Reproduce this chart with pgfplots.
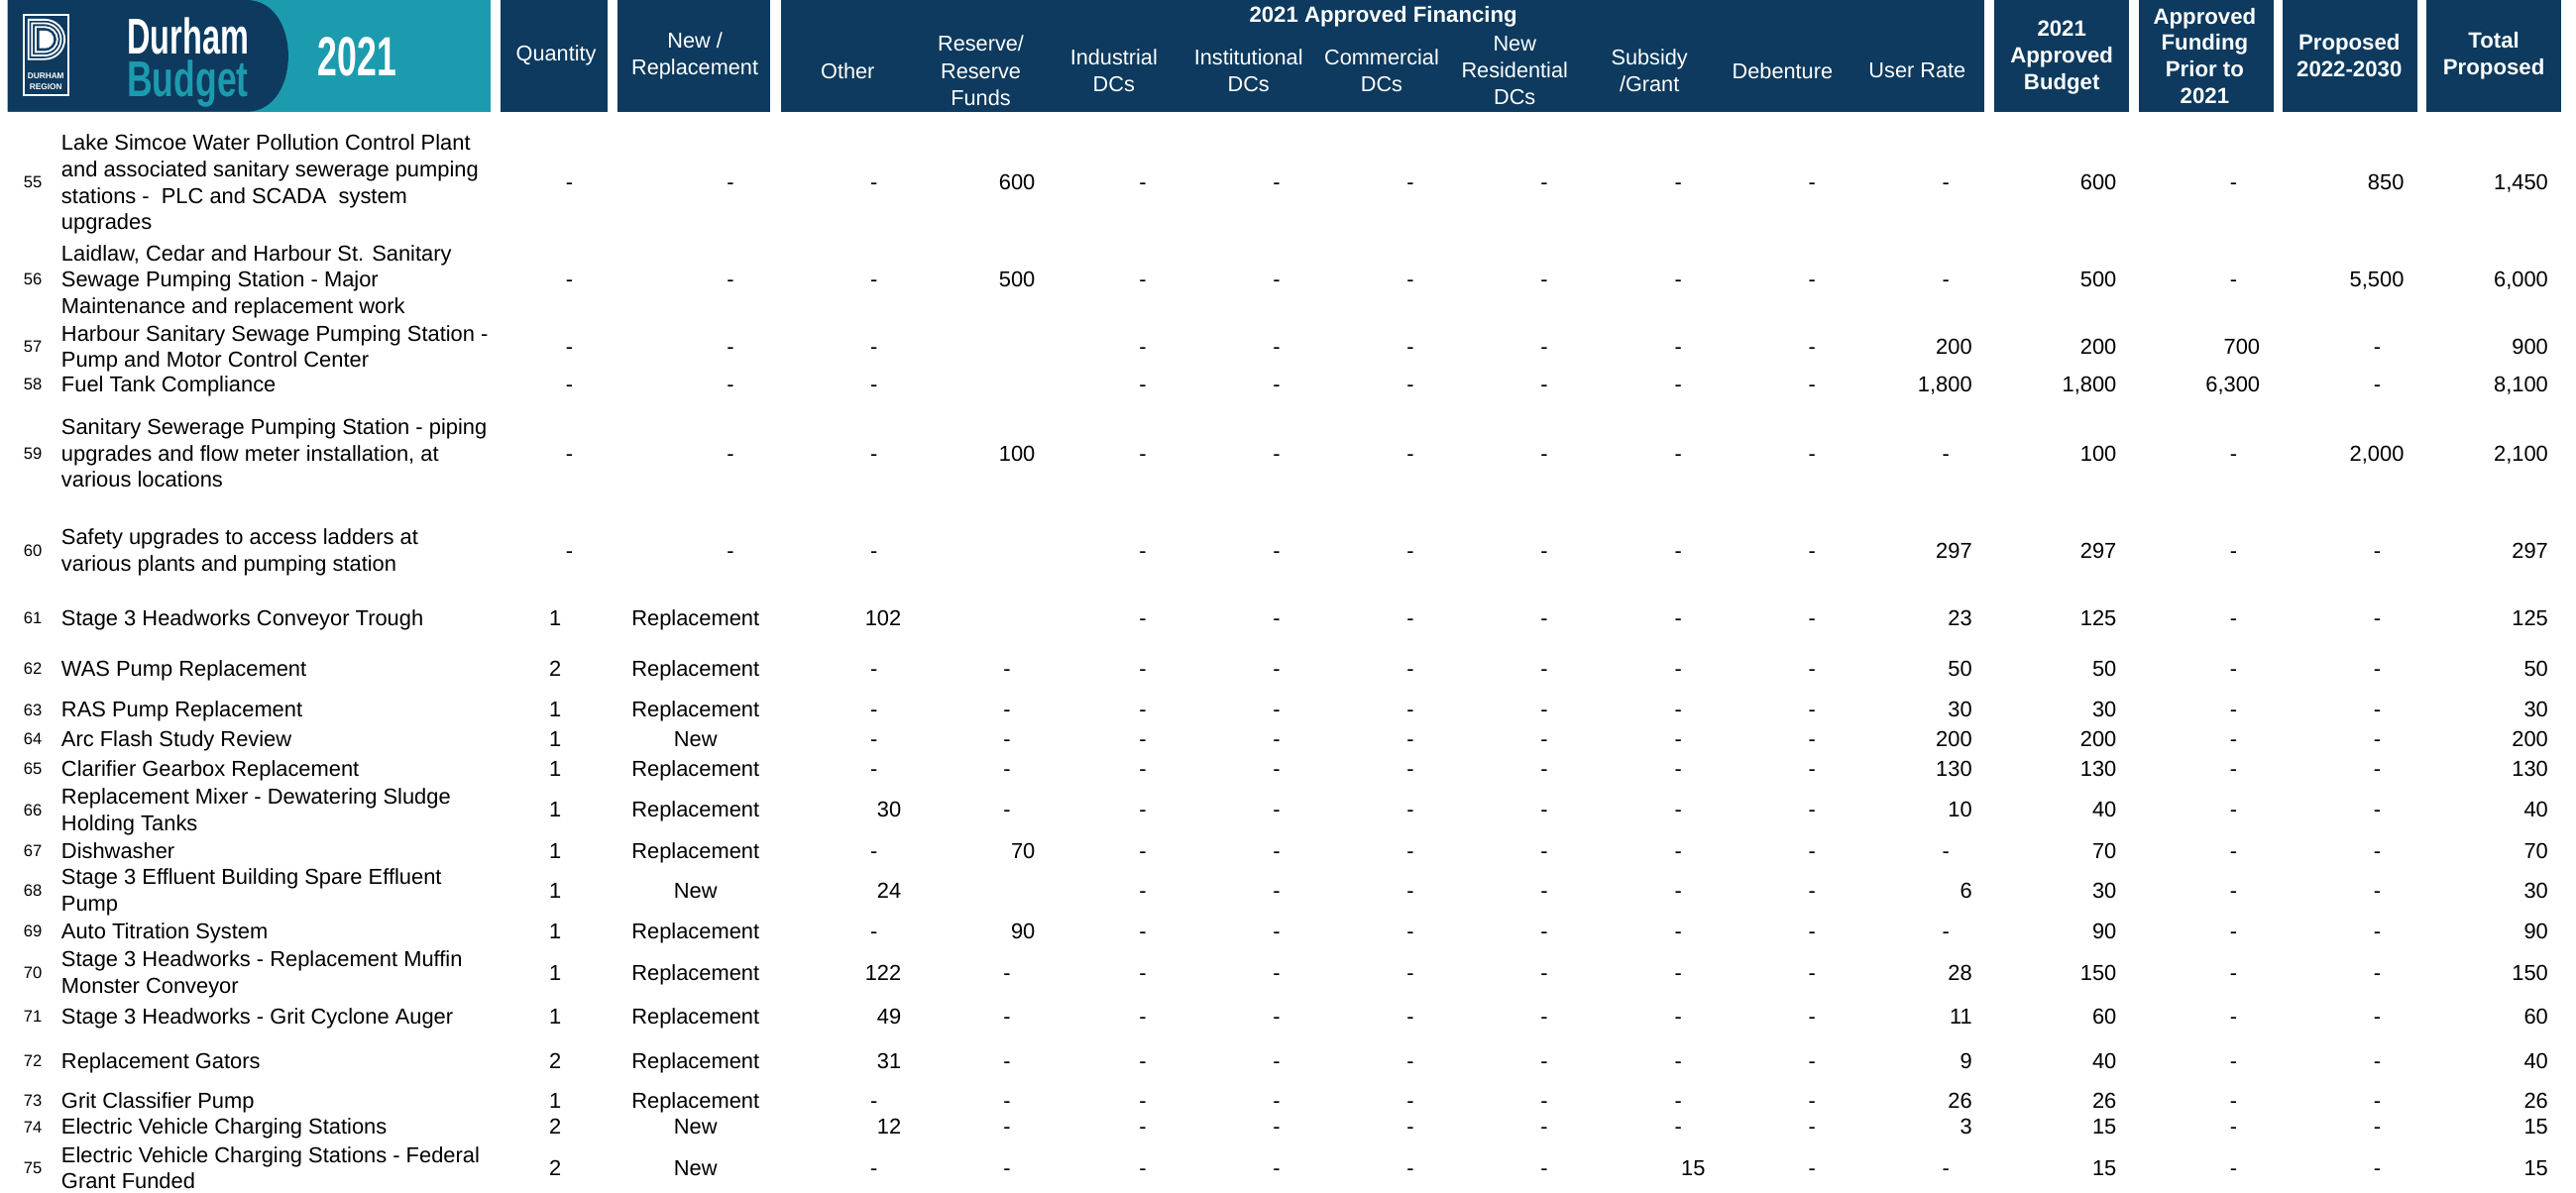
\documentclass[border=0pt]{standalone}
\usepackage{pgfplots}
\pgfplotsset{compat=1.18}
\usepackage{graphicx}
\usepackage{fontspec}
\setmainfont{Liberation Sans}
\definecolor{navy}{RGB}{13,58,94}
\definecolor{dteal}{RGB}{28,155,174}
\newcommand\cf{\fontsize{6.6bp}{8bp}\selectfont}
\newcommand\hf{\fontsize{6.55bp}{8.2bp}\selectfont}
\newcommand\bhf{\fontsize{6.7bp}{8.1bp}\selectfont\bfseries}
\pgfplotsset{
  txt/.style={draw=none, mark=none,
    point meta=explicit symbolic, nodes near coords,
    every node near coord/.style={font=\cf, inner sep=0pt, text=black, anchor=#1, yshift=-2.35bp}},
  rn/.style={draw=none, mark=none,
    point meta=explicit symbolic, nodes near coords,
    every node near coord/.style={font=\fontsize{5bp}{6bp}\selectfont, inner sep=0pt, text=black, anchor=base, yshift=-1.8bp}},
}
\begin{document}
\begin{tikzpicture}
\begin{axis}[width=784bp,height=363bp,scale only axis,
  xmin=0,xmax=1568,ymin=0,ymax=726,y dir=reverse,hide axis,clip=false]
% ---------- header boxes ----------
\fill[dteal] (axis cs:4.6,0) rectangle (axis cs:298.6,68);
\fill[navy] (axis cs:4.6,0) -- (axis cs:150,0) .. controls (axis cs:184,0) and (axis cs:184,68) .. (axis cs:150,68) -- (axis cs:4.6,68) -- cycle;
\fill[navy] (axis cs:304.7,0) rectangle (axis cs:370,68);
\fill[navy] (axis cs:376,0) rectangle (axis cs:468.5,68);
\fill[navy] (axis cs:475.5,0) rectangle (axis cs:1207.7,68);
\fill[navy] (axis cs:1213.6,0) rectangle (axis cs:1295.7,68);
\fill[navy] (axis cs:1302.2,0) rectangle (axis cs:1383.8,68);
\fill[navy] (axis cs:1389.5,0) rectangle (axis cs:1471.2,68);
\fill[navy] (axis cs:1477,0) rectangle (axis cs:1559,68);
% ---------- logo ----------
\draw[white, line width=0.6bp] (axis cs:14.4,9.2) rectangle (axis cs:41.4,58);
\begin{scope}[shift={(axis cs:17.3,12)}]
  \draw[white, line width=0.55bp] (0bp,0bp) -- (5bp,0bp) arc[start angle=90, end angle=-90, radius=6bp] -- (0bp,-12bp) -- cycle;
  \draw[white, line width=0.55bp] (1.1bp,-1.1bp) -- (5bp,-1.1bp) arc[start angle=90, end angle=-90, radius=4.9bp] -- (1.1bp,-10.9bp) -- cycle;
  \draw[white, line width=0.55bp] (2.2bp,-2.2bp) -- (5bp,-2.2bp) arc[start angle=90, end angle=-90, radius=3.8bp] -- (2.2bp,-9.8bp) -- cycle;
  \fill[white] (3.3bp,-3.3bp) -- (5bp,-3.3bp) arc[start angle=90,end angle=-90,radius=2.7bp] -- (3.3bp,-8.7bp) -- cycle;
\end{scope}
\node[inner sep=0pt, text=white, align=center, font=\fontsize{2.5bp}{3.5bp}\selectfont\bfseries] at (axis cs:27.9,49.5) {DURHAM\\REGION};
\node[inner sep=0pt, anchor=north west, align=left, font=\fontsize{15.3bp}{12.85bp}\selectfont\bfseries] at (axis cs:77,10.4)
  {\textcolor{white}{\scalebox{0.64}[1]{Durham}}\\\textcolor{dteal}{\scalebox{0.70}[1]{Budget}}};
\node[inner sep=0pt, anchor=base west, text=white] at (axis cs:193,46) {\scalebox{0.64}[1]{\fontsize{16.8bp}{16.8bp}\selectfont\bfseries 2021}};
% ---------- header labels ----------
\begin{scope}[every node/.style={inner sep=0pt, text=white, font=\hf, align=center}]
\node at (axis cs:338.5,34) {Quantity};
\node at (axis cs:423,34) {New /\\Replacement};
\node[font=\bhf] at (axis cs:842,10) {2021 Approved Financing};
\node at (axis cs:516,43) {Other};
\node at (axis cs:597,43) {Reserve/\\Reserve\\Funds};
\node at (axis cs:678,43) {Industrial\\DCs};
\node at (axis cs:760,43) {Institutional\\DCs};
\node at (axis cs:841,43) {Commercial\\DCs};
\node at (axis cs:922,43) {New\\Residential\\DCs};
\node at (axis cs:1004,43) {Subsidy\\/Grant};
\node at (axis cs:1085,43) {Debenture};
\node at (axis cs:1167,43) {User Rate};
\node[font=\bhf] at (axis cs:1255,35) {2021\\Approved\\Budget};
\node[font=\bhf] at (axis cs:1342,34) {Approved\\Funding\\Prior to\\2021};
\node[font=\bhf] at (axis cs:1430,34) {Proposed\\2022-2030};
\node[font=\bhf] at (axis cs:1518,34) {Total\\Proposed};
\end{scope}
% ---------- row numbers ----------
\addplot[rn] coordinates {
(20,111)[55] (20,170)[56] (20,211)[57] (20,234)[58] (20,276)[59] (20,335)[60]
(20,376)[61] (20,407)[62] (20,432)[63] (20,450)[64] (20,468)[65] (20,493)[66]
(20,518)[67] (20,542)[68] (20,567)[69] (20,592)[70] (20,619)[71] (20,646)[72]
(20,670)[73] (20,686)[74] (20,711)[75]};
% ---------- descriptions ----------
\addplot[txt=base west] coordinates {
(37,87)[Lake Simcoe Water Pollution Control Plant]
(37,103)[and associated sanitary sewerage pumping]
(37,119)[stations - \ PLC and SCADA \ system]
(37,135)[upgrades]
(37,154)[Laidlaw, Cedar and Harbour St. Sanitary]
(37,170)[Sewage Pumping Station - Major]
(37,186)[Maintenance and replacement work]
(37,203)[Harbour Sanitary Sewage Pumping Station -]
(37,219)[Pump and Motor Control Center]
(37,234)[Fuel Tank Compliance]
(37,260)[Sanitary Sewerage Pumping Station - piping]
(37,276)[upgrades and flow meter installation, at]
(37,292)[various locations]
(37,327)[Safety upgrades to access ladders at]
(37,343)[various plants and pumping station]
(37,376)[Stage 3 Headworks Conveyor Trough]
(37,407)[WAS Pump Replacement]
(37,432)[RAS Pump Replacement]
(37,450)[Arc Flash Study Review]
(37,468)[Clarifier Gearbox Replacement]
(37,485)[Replacement Mixer - Dewatering Sludge]
(37,501)[Holding Tanks]
(37,518)[Dishwasher]
(37,534)[Stage 3 Effluent Building Spare Effluent]
(37,550)[Pump]
(37,567)[Auto Titration System]
(37,584)[Stage 3 Headworks - Replacement Muffin]
(37,600)[Monster Conveyor]
(37,619)[Stage 3 Headworks - Grit Cyclone Auger]
(37,646)[Replacement Gators]
(37,670)[Grit Classifier Pump]
(37,686)[Electric Vehicle Charging Stations]
(37,703)[Electric Vehicle Charging Stations - Federal]
(37,719)[Grant Funded]};
% ---------- quantity & new/replacement ----------
\addplot[txt=base] coordinates {
(338,376)[1] (338,407)[2] (338,432)[1] (338,450)[1] (338,468)[1] (338,493)[1] (338,518)[1]
(338,542)[1] (338,567)[1] (338,592)[1] (338,619)[1] (338,646)[2] (338,670)[1] (338,686)[2] (338,711)[2]};
\addplot[txt=base] coordinates {
(423.4,376)[Replacement] (423.4,407)[Replacement] (423.4,432)[Replacement] (423.4,450)[New]
(423.4,468)[Replacement] (423.4,493)[Replacement] (423.4,518)[Replacement] (423.4,542)[New]
(423.4,567)[Replacement] (423.4,592)[Replacement] (423.4,619)[Replacement] (423.4,646)[Replacement]
(423.4,670)[Replacement] (423.4,686)[New] (423.4,711)[New]};
% ---------- dashes ----------
\addplot[txt=base] coordinates { % quantity, new/replacement
(346.6,111)[-] (346.6,170)[-] (346.6,211)[-] (346.6,234)[-] (346.6,276)[-] (346.6,335)[-]
(444.6,111)[-] (444.6,170)[-] (444.6,211)[-] (444.6,234)[-] (444.6,276)[-] (444.6,335)[-]};
\addplot[txt=base] coordinates { % other
(532,111)[-] (532,170)[-] (532,211)[-] (532,234)[-] (532,276)[-] (532,335)[-] (532,407)[-]
(532,432)[-] (532,450)[-] (532,468)[-] (532,518)[-] (532,567)[-] (532,670)[-] (532,711)[-]};
\addplot[txt=base] coordinates { % reserve
(613,407)[-] (613,432)[-] (613,450)[-] (613,468)[-] (613,493)[-] (613,592)[-] (613,619)[-]
(613,646)[-] (613,670)[-] (613,686)[-] (613,711)[-]};
\addplot[txt=base] coordinates { % industrial
(695.6,111)[-] (695.6,170)[-] (695.6,211)[-] (695.6,234)[-] (695.6,276)[-] (695.6,335)[-] (695.6,376)[-]
(695.6,407)[-] (695.6,432)[-] (695.6,450)[-] (695.6,468)[-] (695.6,493)[-] (695.6,518)[-] (695.6,542)[-]
(695.6,567)[-] (695.6,592)[-] (695.6,619)[-] (695.6,646)[-] (695.6,670)[-] (695.6,686)[-] (695.6,711)[-]};
\addplot[txt=base] coordinates { % institutional
(777,111)[-] (777,170)[-] (777,211)[-] (777,234)[-] (777,276)[-] (777,335)[-] (777,376)[-]
(777,407)[-] (777,432)[-] (777,450)[-] (777,468)[-] (777,493)[-] (777,518)[-] (777,542)[-]
(777,567)[-] (777,592)[-] (777,619)[-] (777,646)[-] (777,670)[-] (777,686)[-] (777,711)[-]};
\addplot[txt=base] coordinates { % commercial
(858.5,111)[-] (858.5,170)[-] (858.5,211)[-] (858.5,234)[-] (858.5,276)[-] (858.5,335)[-] (858.5,376)[-]
(858.5,407)[-] (858.5,432)[-] (858.5,450)[-] (858.5,468)[-] (858.5,493)[-] (858.5,518)[-] (858.5,542)[-]
(858.5,567)[-] (858.5,592)[-] (858.5,619)[-] (858.5,646)[-] (858.5,670)[-] (858.5,686)[-] (858.5,711)[-]};
\addplot[txt=base] coordinates { % new residential
(940,111)[-] (940,170)[-] (940,211)[-] (940,234)[-] (940,276)[-] (940,335)[-] (940,376)[-]
(940,407)[-] (940,432)[-] (940,450)[-] (940,468)[-] (940,493)[-] (940,518)[-] (940,542)[-]
(940,567)[-] (940,592)[-] (940,619)[-] (940,646)[-] (940,670)[-] (940,686)[-] (940,711)[-]};
\addplot[txt=base] coordinates { % subsidy
(1021.5,111)[-] (1021.5,170)[-] (1021.5,211)[-] (1021.5,234)[-] (1021.5,276)[-] (1021.5,335)[-] (1021.5,376)[-]
(1021.5,407)[-] (1021.5,432)[-] (1021.5,450)[-] (1021.5,468)[-] (1021.5,493)[-] (1021.5,518)[-] (1021.5,542)[-]
(1021.5,567)[-] (1021.5,592)[-] (1021.5,619)[-] (1021.5,646)[-] (1021.5,670)[-] (1021.5,686)[-]};
\addplot[txt=base] coordinates { % debenture
(1103,111)[-] (1103,170)[-] (1103,211)[-] (1103,234)[-] (1103,276)[-] (1103,335)[-] (1103,376)[-]
(1103,407)[-] (1103,432)[-] (1103,450)[-] (1103,468)[-] (1103,493)[-] (1103,518)[-] (1103,542)[-]
(1103,567)[-] (1103,592)[-] (1103,619)[-] (1103,646)[-] (1103,670)[-] (1103,686)[-] (1103,711)[-]};
\addplot[txt=base] coordinates { % user rate
(1184.5,111)[-] (1184.5,170)[-] (1184.5,276)[-] (1184.5,518)[-] (1184.5,567)[-] (1184.5,711)[-]};
\addplot[txt=base] coordinates { % approved prior
(1359.6,111)[-] (1359.6,170)[-] (1359.6,276)[-] (1359.6,335)[-] (1359.6,376)[-]
(1359.6,407)[-] (1359.6,432)[-] (1359.6,450)[-] (1359.6,468)[-] (1359.6,493)[-] (1359.6,518)[-] (1359.6,542)[-]
(1359.6,567)[-] (1359.6,592)[-] (1359.6,619)[-] (1359.6,646)[-] (1359.6,670)[-] (1359.6,686)[-] (1359.6,711)[-]};
\addplot[txt=base] coordinates { % proposed
(1447,211)[-] (1447,234)[-] (1447,335)[-] (1447,376)[-]
(1447,407)[-] (1447,432)[-] (1447,450)[-] (1447,468)[-] (1447,493)[-] (1447,518)[-] (1447,542)[-]
(1447,567)[-] (1447,592)[-] (1447,619)[-] (1447,646)[-] (1447,670)[-] (1447,686)[-] (1447,711)[-]};
% ---------- numbers ----------
\addplot[txt=base east] coordinates { % other
(549,376)[102] (549,493)[30] (549,542)[24] (549,592)[122] (549,619)[49] (549,646)[31] (549,686)[12]};
\addplot[txt=base east] coordinates { % reserve
(630.5,111)[600] (630.5,170)[500] (630.5,276)[100] (630.5,518)[70] (630.5,567)[90]};
\addplot[txt=base east] coordinates { % subsidy
(1038.4,711)[15]};
\addplot[txt=base east] coordinates { % user rate
(1200.8,211)[200] (1200.8,234)[1,800] (1200.8,335)[297] (1200.8,376)[23] (1200.8,407)[50]
(1200.8,432)[30] (1200.8,450)[200] (1200.8,468)[130] (1200.8,493)[10] (1200.8,542)[6]
(1200.8,592)[28] (1200.8,619)[11] (1200.8,646)[9] (1200.8,670)[26] (1200.8,686)[3]};
\addplot[txt=base east] coordinates { % 2021 approved budget
(1288.7,111)[600] (1288.7,170)[500] (1288.7,211)[200] (1288.7,234)[1,800] (1288.7,276)[100]
(1288.7,335)[297] (1288.7,376)[125] (1288.7,407)[50] (1288.7,432)[30] (1288.7,450)[200]
(1288.7,468)[130] (1288.7,493)[40] (1288.7,518)[70] (1288.7,542)[30] (1288.7,567)[90]
(1288.7,592)[150] (1288.7,619)[60] (1288.7,646)[40] (1288.7,670)[26] (1288.7,686)[15] (1288.7,711)[15]};
\addplot[txt=base east] coordinates { % approved prior
(1376,211)[700] (1376,234)[6,300]};
\addplot[txt=base east] coordinates { % proposed
(1463.7,111)[850] (1463.7,170)[5,500] (1463.7,276)[2,000]};
\addplot[txt=base east] coordinates { % total
(1551.4,111)[1,450] (1551.4,170)[6,000] (1551.4,211)[900] (1551.4,234)[8,100] (1551.4,276)[2,100]
(1551.4,335)[297] (1551.4,376)[125] (1551.4,407)[50] (1551.4,432)[30] (1551.4,450)[200]
(1551.4,468)[130] (1551.4,493)[40] (1551.4,518)[70] (1551.4,542)[30] (1551.4,567)[90]
(1551.4,592)[150] (1551.4,619)[60] (1551.4,646)[40] (1551.4,670)[26] (1551.4,686)[15] (1551.4,711)[15]};
\end{axis}
\pgfresetboundingbox
\path (0,0) rectangle (784bp,363bp);
\end{tikzpicture}
\end{document}
